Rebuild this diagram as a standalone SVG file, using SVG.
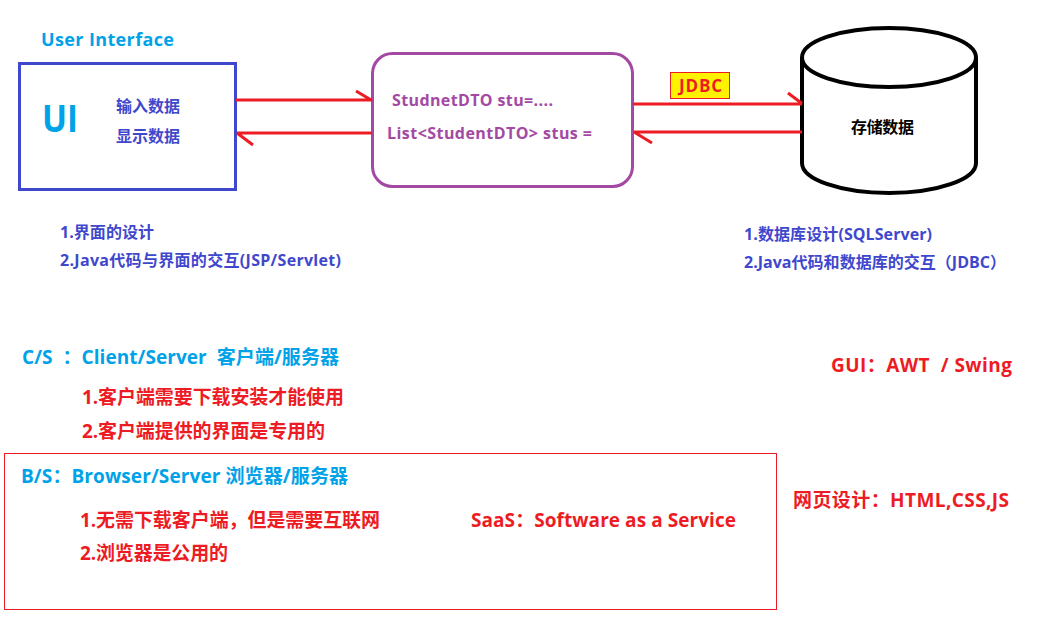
<svg xmlns="http://www.w3.org/2000/svg" width="1048" height="624" viewBox="0 0 1048 624">
<style>
text{font-family:"Open Sans","Noto Sans CJK SC",sans-serif;font-weight:bold;white-space:pre}
.cyan{fill:#00a2e8}
.ind{fill:#3f48cc;font-size:16px}
.pur{fill:#a349a4;font-size:16px}
.red{fill:#ed1c24}
.big{font-size:19px}
.conn{fill:none;stroke:#ed1c24;stroke-width:3}
</style>
<rect width="1048" height="624" fill="#fff"/>
<g id="ui-node">
<text class="cyan" x="41" y="46" font-size="18" textLength="133">User Interface</text>
<rect x="19.5" y="63.5" width="216" height="126" fill="none" stroke="#3f48cc" stroke-width="3"/>
<text class="cyan" x="42" y="132" font-size="38" textLength="36" lengthAdjust="spacingAndGlyphs">UI</text>
<text class="ind" x="116" y="112" textLength="64">输入数据</text>
<text class="ind" x="116" y="142" textLength="64">显示数据</text>
</g>
<g id="ui-notes">
<text class="ind" x="60" y="238" textLength="94">1.界面的设计</text>
<text class="ind" x="60" y="266" textLength="281">2.Java代码与界面的交互(JSP/Servlet)</text>
</g>
<g id="dto-node">
<rect x="372.5" y="53.5" width="260" height="133" rx="20" fill="none" stroke="#a349a4" stroke-width="3"/>
<text class="pur" x="392" y="106" textLength="161">StudnetDTO stu=....</text>
<text class="pur" x="387" y="139" textLength="205">List&lt;StudentDTO&gt; stus =</text>
</g>
<g id="db-node">
<path d="M802,58 V163 A87,30 0 0 0 976,163 V58" fill="none" stroke="#000" stroke-width="4"/>
<ellipse cx="889" cy="57.5" rx="87" ry="29.5" fill="none" stroke="#000" stroke-width="4"/>
<text x="851" y="133" font-size="16" fill="#000" textLength="63">存储数据</text>
</g>
<g id="db-notes">
<text class="ind" x="744" y="240" textLength="188">1.数据库设计(SQLServer)</text>
<text class="ind" x="744" y="268" textLength="262">2.Java代码和数据库的交互（JDBC）</text>
</g>
<g id="connectors">
<path class="conn" d="M236,100 H372 M356,91 L372,100.5"/>
<path class="conn" d="M372,133 H237 M237,133 L253,145"/>
<path class="conn" d="M633,104 H802 M788,93 L802,103.5"/>
<path class="conn" d="M802,132 H634 M634,132 L652,143"/>
</g>
<g id="jdbc-label">
<rect x="670.5" y="72.5" width="59" height="26" fill="#fff200" stroke="#ed1c24" stroke-width="1"/>
<text class="red" x="679" y="92" font-size="17" textLength="43">JDBC</text>
</g>
<g id="cs-section">
<text class="cyan big" x="22" y="364" textLength="317">C/S  ：Client/Server  客户端/服务器</text>
<text class="red big" x="82" y="404" textLength="262">1.客户端需要下载安装才能使用</text>
<text class="red big" x="82" y="438" textLength="243">2.客户端提供的界面是专用的</text>
</g>
<g id="gui-note">
<text class="red big" x="831" y="372" textLength="181">GUI：AWT  / Swing</text>
</g>
<g id="bs-section">
<rect x="4.5" y="453.5" width="772" height="156" fill="none" stroke="#ed1c24" stroke-width="1"/>
<text class="cyan big" x="21" y="483" textLength="327">B/S：Browser/Server 浏览器/服务器</text>
<text class="red big" x="80" y="527" textLength="300">1.无需下载客户端，但是需要互联网</text>
<text class="red big" x="80" y="560" textLength="148">2.浏览器是公用的</text>
<text class="red big" x="471" y="527" textLength="265">SaaS：Software as a Service</text>
</g>
<g id="web-note">
<text class="red big" x="793" y="507" textLength="216">网页设计：HTML,CSS,JS</text>
</g>
</svg>
